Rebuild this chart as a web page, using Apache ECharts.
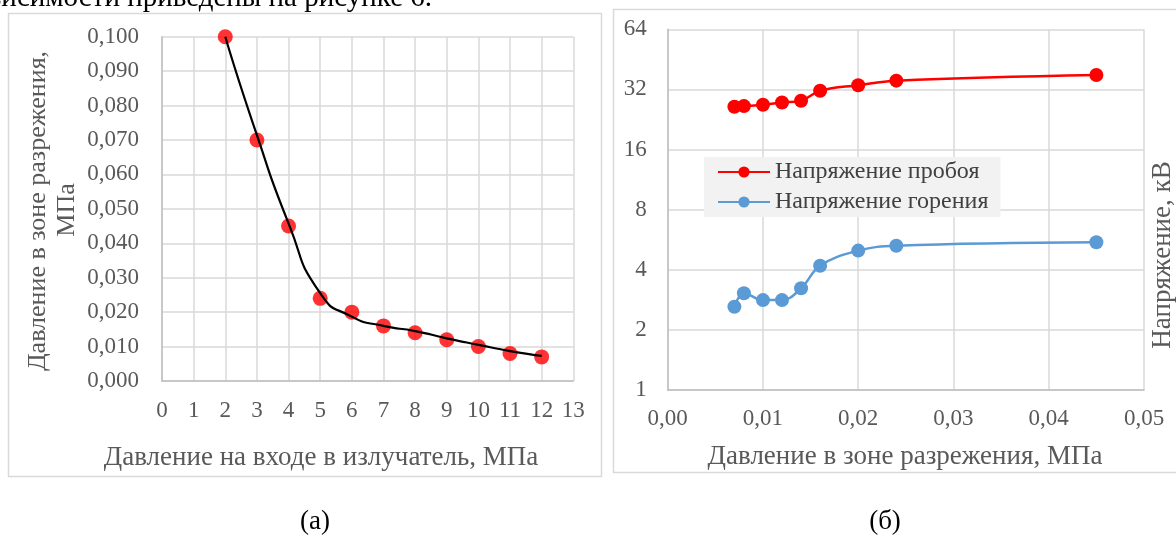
<!DOCTYPE html>
<html><head><meta charset="utf-8">
<script src="https://cdn.jsdelivr.net/npm/echarts@6/dist/echarts.min.js"></script>
<style>html,body{margin:0;padding:0;background:#fff}#c{width:1176px;height:535px}</style>
</head><body><div id="c"></div>
<script>
// Chart (a)
const inletPressure = [2, 3, 4, 5, 6, 7, 8, 9, 10, 11, 12];
const vacuumPressure = [0.100, 0.070, 0.045, 0.024, 0.020, 0.016, 0.014, 0.012, 0.010, 0.008, 0.007];
const trendPressure = [0.100, 0.0714, 0.0458, 0.0255, 0.0187, 0.0160, 0.0145, 0.0124, 0.0105, 0.0087, 0.0073];
// Chart (б)
const zonePressure = [0.007, 0.008, 0.010, 0.012, 0.014, 0.016, 0.020, 0.024, 0.045];
const breakdownVoltage = [26.2, 26.4, 26.8, 27.5, 28.1, 31.5, 33.6, 35.4, 37.8];
const burningVoltage = [2.61, 3.05, 2.82, 2.82, 3.23, 4.19, 4.99, 5.28, 5.49];
const seriesNames = ['Напряжение пробоя', 'Напряжение горения'];
const yTicksB = [1, 2, 4, 8, 16, 32, 64];

const FONT = "'Liberation Serif','DejaVu Serif',serif";
const GRAY = '#595959';
const GRID = '#d9d9d9';

const chart = echarts.init(document.getElementById('c'), null, {renderer: 'canvas'});
const comma = (v, d) => v.toFixed(d).replace('.', ',');

const option = {
  animation: false,
  backgroundColor: '#ffffff',
  textStyle: {fontFamily: FONT},
  grid: [
    {left: 162, top: 36.7, width: 411.3, height: 344.3},
    {left: 667.7, top: 29.3, width: 476.3, height: 360.7}
  ],
  xAxis: [
    {gridIndex: 0, type: 'value', min: 0, max: 13, interval: 1,
     axisLine: {show: true, lineStyle: {color: '#bfbfbf', width: 1.5}}, axisTick: {show: false},
     splitLine: {show: true, lineStyle: {color: GRID, width: 1.5}},
     axisLabel: {color: GRAY, fontSize: 23, fontFamily: FONT, margin: 18}},
    {gridIndex: 1, type: 'value', min: 0, max: 0.05, interval: 0.01,
     axisLine: {show: true, lineStyle: {color: '#bfbfbf', width: 1.5}}, axisTick: {show: false},
     splitLine: {show: true, lineStyle: {color: GRID, width: 1.5}},
     axisLabel: {color: GRAY, fontSize: 23, fontFamily: FONT, margin: 17, formatter: v => comma(v, 2)}}
  ],
  yAxis: [
    {gridIndex: 0, type: 'value', min: 0, max: 0.1, interval: 0.01,
     axisLine: {show: true, lineStyle: {color: '#bfbfbf', width: 1.5}}, axisTick: {show: false},
     splitLine: {show: true, lineStyle: {color: GRID, width: 1.5}},
     axisLabel: {color: GRAY, fontSize: 23, fontFamily: FONT, margin: 23, formatter: v => comma(v, 3)}},
    {gridIndex: 1, type: 'log', logBase: 2, min: yTicksB[0], max: yTicksB[yTicksB.length - 1],
     axisLine: {show: true, lineStyle: {color: '#bfbfbf', width: 1.5}}, axisTick: {show: false},
     splitLine: {show: true, lineStyle: {color: GRID, width: 1.5}},
     axisLabel: {color: GRAY, fontSize: 23, fontFamily: FONT, margin: 21}}
  ],
  legend: {
    data: seriesNames,
    left: 704, top: 157,
    orient: 'vertical',
    backgroundColor: '#f2f2f2',
    padding: [2, 12, 2, 13],
    itemGap: 4,
    itemWidth: 52, itemHeight: 14,
    textStyle: {color: '#404040', fontSize: 24, fontFamily: FONT, lineHeight: 26}
  },
  series: [
    {type: 'scatter', xAxisIndex: 0, yAxisIndex: 0, symbol: 'circle', symbolSize: 15,
     itemStyle: {color: '#ff0000'}, data: inletPressure.map((x, i) => [x, vacuumPressure[i]]), z: 2},
    {type: 'line', xAxisIndex: 0, yAxisIndex: 0, smooth: 0.6, showSymbol: false, symbol: 'none',
     lineStyle: {color: '#000000', width: 2.2}, data: inletPressure.map((x, i) => [x, trendPressure[i]]), z: 3},
    {name: seriesNames[0], type: 'line', xAxisIndex: 1, yAxisIndex: 1, smooth: 0.4, symbol: 'circle', symbolSize: 14,
     itemStyle: {color: '#ff0000'}, lineStyle: {color: '#ff0000', width: 2.5},
     data: zonePressure.map((x, i) => [x, breakdownVoltage[i]])},
    {name: seriesNames[1], type: 'line', xAxisIndex: 1, yAxisIndex: 1, smooth: 0.4, symbol: 'circle', symbolSize: 14,
     itemStyle: {color: '#5b9bd5'}, lineStyle: {color: '#5b9bd5', width: 2.5},
     data: zonePressure.map((x, i) => [x, burningVoltage[i]])}
  ],
  graphic: [
    {type: 'rect', shape: {x: 8.5, y: 13.5, width: 593, height: 463}, style: {fill: 'none', stroke: '#d9d9d9', lineWidth: 1.5}, z: -10},
    {type: 'rect', shape: {x: 613.5, y: 9.5, width: 600, height: 463}, style: {fill: 'none', stroke: '#d9d9d9', lineWidth: 1.5}, z: -10},
    {type: 'text', x: 432, y: 13, style: {text: 'зависимости приведены на рисунке 6.', fill: '#000', font: "29px " + FONT, textAlign: 'right', textVerticalAlign: 'bottom'}},
    {type: 'text', x: 38, y: 211, rotation: Math.PI / 2, style: {text: 'Давление в зоне разрежения,', fill: GRAY, font: "26px " + FONT, textAlign: 'center', textVerticalAlign: 'middle'}},
    {type: 'text', x: 67, y: 210, rotation: Math.PI / 2, style: {text: 'МПа', fill: GRAY, font: "26px " + FONT, textAlign: 'center', textVerticalAlign: 'middle'}},
    {type: 'text', x: 321, y: 458, style: {text: 'Давление на входе в излучатель, МПа', fill: GRAY, font: "27px " + FONT, textAlign: 'center', textVerticalAlign: 'middle'}},
    {type: 'text', x: 905, y: 457, style: {text: 'Давление в зоне разрежения, МПа', fill: GRAY, font: "27px " + FONT, textAlign: 'center', textVerticalAlign: 'middle'}},
    {type: 'text', x: 1163, y: 255, rotation: Math.PI / 2, style: {text: 'Напряжение, кВ', fill: GRAY, font: "27px " + FONT, textAlign: 'center', textVerticalAlign: 'middle'}},
    {type: 'text', x: 315, y: 522, style: {text: '(а)', fill: '#000', font: "27px " + FONT, textAlign: 'center', textVerticalAlign: 'middle'}},
    {type: 'text', x: 885, y: 522, style: {text: '(б)', fill: '#000', font: "27px " + FONT, textAlign: 'center', textVerticalAlign: 'middle'}}
  ]
};
chart.setOption(option);
</script>
</body></html>
